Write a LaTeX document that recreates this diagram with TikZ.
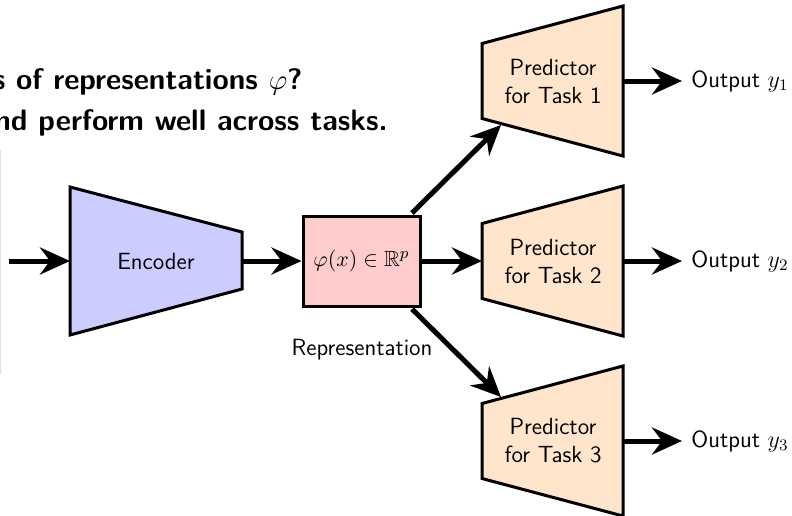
\documentclass[tikz,border=0pt]{standalone}
\usepackage{amssymb}
\usetikzlibrary{arrows.meta}
\definecolor{encblue}{RGB}{204,204,255}
\definecolor{reppink}{RGB}{255,204,204}
\definecolor{predpeach}{RGB}{255,229,204}
\begin{document}
\begin{tikzpicture}[x=0.5pt,y=-0.5pt,
  every node/.style={font=\sffamily\fontsize{11.7}{14}\selectfont},
  blockline/.style={line width=1.5pt,draw=black,line join=miter},
  flow/.style={line width=2.5pt,-{Stealth[length=15pt,width=13.5pt,inset=5pt]}},
  txt/.style={inner sep=0pt,align=center},
  titletxt/.style={inner sep=0pt,anchor=base east,font=\sffamily\bfseries\fontsize{14.8}{17}\selectfont}]
\useasboundingbox (0,0) rectangle (792,515);
% faint edge of a cropped element
\draw[black!12,line width=0.6pt] (0.5,150) -- (0.5,374);
% title (cropped)
\node[titletxt] (t1) at (303,89) {s of representations $\varphi$?};
\node[titletxt] (t2) at (388,130) {nd perform well across tasks.};
% encoder
\draw[blockline,fill=encblue] (70,187) -- (242,232) -- (242,289) -- (70,335) -- cycle;
\node[txt] (enc) at (156,261) {Encoder};
\coordinate (encL) at (70,261);
\coordinate (encR) at (242,261);
\coordinate (in) at (9,261);
% representation
\node[blockline,fill=reppink,minimum width=58.5pt,minimum height=45pt,inner sep=0pt,
      font=\fontsize{11}{14}\selectfont] (rep) at (361.5,261) {$\varphi(x)\in\mathbb{R}^p$};
\node[txt] (replab) at (362,350) {Representation};
% predictors
\foreach \i/\c in {1/81,2/261,3/441}{
  \draw[blockline,fill=predpeach] (482,\c-37.5) -- (623,\c-75) -- (623,\c+75) -- (482,\c+37.5) -- cycle;
  \node[txt] (pred\i) at (553,\c) {Predictor\\for Task \i};
  \coordinate (pred\i L) at (482,\c);
  \coordinate (pred\i R) at (623,\c);
  \coordinate (out\i) at (682,\c);
  \node[anchor=west,inner sep=0pt] (outlab\i) at (691,\c) {Output $y_{\i}$};
}
\coordinate (p1in) at (501,125);
\coordinate (p3in) at (501,397);
\coordinate (repNE) at (412,213);
\coordinate (repSE) at (412,309);
% connectors
\draw[flow] (in) -- (encL);
\draw[flow] (encR) -- (rep.west);
\draw[flow] (rep.east) -- (pred2L);
\draw[flow] (repNE) -- (p1in);
\draw[flow] (repSE) -- (p3in);
\foreach \i in {1,2,3}{ \draw[flow] (pred\i R) -- (out\i); }
\end{tikzpicture}
\end{document}
